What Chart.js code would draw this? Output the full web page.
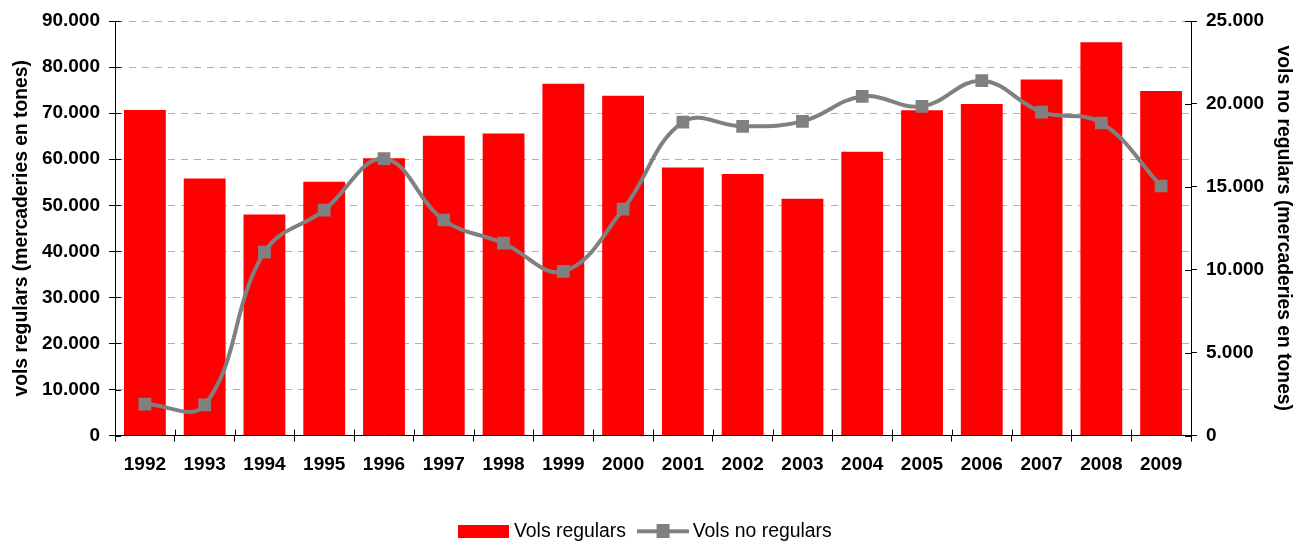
<!DOCTYPE html>
<html lang="ca">
<head>
<meta charset="utf-8">
<title>Vols regulars i no regulars</title>
<script src="https://cdn.jsdelivr.net/npm/chart.js@4/dist/chart.umd.min.js"></script>
<style>
  html, body { margin: 0; padding: 0; background: #fff; }
  #wrap { width: 1295px; height: 543px; position: relative; }
</style>
</head>
<body>
<div id="wrap"><canvas id="grafic"></canvas></div>
<script>
// Dades: tones de mercaderies per any
const anys = ["1992", "1993", "1994", "1995", "1996", "1997", "1998", "1999", "2000",
  "2001", "2002", "2003", "2004", "2005", "2006", "2007", "2008", "2009"];
const volsRegulars = [70700, 55800, 48000, 55100, 60200, 65100, 65600, 76400, 73800,
  58200, 56800, 51400, 61600, 70600, 72000, 77300, 85400, 74800];
const volsNoRegulars = [1900, 1850, 11070, 13600, 16700, 13000, 11600, 9900, 13650,
  18900, 18650, 18950, 20450, 19850, 21400, 19500, 18850, 15050];
const ticksEsquerra = [0, 90000, 10000];  // min, max, pas
const ticksDreta = [0, 25000, 5000];

const VERMELL = "#ff0000";
const GRIS = "#808080";
const FONT = "'Liberation Sans', Arial, sans-serif";

// format 90.000
function milers(v) {
  return v.toString().replace(/\B(?=(\d{3})+(?!\d))/g, ".");
}

// mostres de la llegenda
function mostraBarra() {
  const c = document.createElement("canvas");
  c.width = 51; c.height = 13;
  const g = c.getContext("2d");
  g.fillStyle = VERMELL;
  g.fillRect(0, 0, 51, 13);
  return c;
}
function mostraLinia() {
  const c = document.createElement("canvas");
  c.width = 52; c.height = 14;
  const g = c.getContext("2d");
  g.strokeStyle = GRIS;
  g.lineWidth = 4;
  g.beginPath(); g.moveTo(0, 7); g.lineTo(52, 7); g.stroke();
  g.fillStyle = GRIS;
  g.fillRect(20, 0, 13, 14);
  return c;
}

// marques dels eixos que creuen la línia de l'eix
const marquesEixos = {
  id: "marquesEixos",
  afterDatasetsDraw(chart) {
    const { ctx, chartArea, scales } = chart;
    const L = 6;
    ctx.save();
    ctx.strokeStyle = "#000";
    ctx.lineWidth = 1;
    ctx.beginPath();
    scales.y.ticks.forEach((t, i) => {
      const y = Math.round(scales.y.getPixelForTick(i)) + 0.5;
      ctx.moveTo(chartArea.left, y); ctx.lineTo(chartArea.left + L, y);
    });
    scales.y1.ticks.forEach((t, i) => {
      const y = Math.round(scales.y1.getPixelForTick(i)) + 0.5;
      ctx.moveTo(chartArea.right, y); ctx.lineTo(chartArea.right - L, y);
    });
    for (let i = 0; i <= anys.length; i++) {
      const x = Math.round(scales.x.getPixelForValue(i - 0.5)) + 0.5;
      ctx.moveTo(x, chartArea.bottom); ctx.lineTo(x, chartArea.bottom - L);
    }
    ctx.stroke();
    ctx.restore();
  }
};

const ctx = document.getElementById("grafic");

new Chart(ctx, {
  type: "bar",
  data: {
    labels: anys,
    datasets: [
      {
        type: "line",
        label: "Vols no regulars",
        data: volsNoRegulars,
        yAxisID: "y1",
        borderColor: GRIS,
        backgroundColor: GRIS,
        borderWidth: 4,
        tension: 0.4,
        pointStyle: "rect",
        pointRadius: 9,
        pointBorderWidth: 0,
        pointBackgroundColor: GRIS,
        order: 1
      },
      {
        type: "bar",
        label: "Vols regulars",
        data: volsRegulars,
        yAxisID: "y",
        backgroundColor: VERMELL,
        borderWidth: 0,
        barPercentage: 0.7,
        categoryPercentage: 1,
        order: 2
      }
    ]
  },
  options: {
    responsive: true,
    maintainAspectRatio: false,
    animation: false,
    layout: { padding: { left: 0, right: 0, top: 21, bottom: -8 } },
    plugins: {
      tooltip: { enabled: false },
      legend: {
        position: "bottom",
        labels: {
          font: { family: FONT, size: 19.4 },
          color: "#000",
          usePointStyle: true,
          pointStyleWidth: 41,
          padding: 16,
          generateLabels(chart) {
            return [
              { text: "Vols regulars", pointStyle: mostraBarra(), datasetIndex: 1, lineWidth: 0 },
              { text: "Vols no regulars", pointStyle: mostraLinia(), datasetIndex: 0, lineWidth: 0 }
            ];
          }
        }
      }
    },
    scales: {
      x: {
        offset: true,
        grid: { drawOnChartArea: false, tickLength: 6, tickColor: "#000", offset: true },
        border: { color: "#000", width: 1 },
        ticks: {
          color: "#000",
          font: { family: FONT, size: 19, weight: "bold" },
          maxRotation: 0,
          autoSkip: false,
          padding: 12
        },
        afterFit(scale) { scale.height = 70; }
      },
      y: {
        position: "left",
        min: ticksEsquerra[0],
        max: ticksEsquerra[1],
        grid: {
          color: (c) => (c.tick && c.tick.value === 0 ? "rgba(0,0,0,0)" : "#b0b0b0"),
          tickLength: 6,
          tickColor: "#000"
        },
        border: { color: "#000", width: 1, dash: [7, 6] },
        ticks: {
          stepSize: ticksEsquerra[2],
          color: "#000",
          font: { family: FONT, size: 19, weight: "bold" },
          padding: 9,
          callback: (v) => milers(v)
        },
        title: {
          display: true,
          text: "vols regulars (mercaderies en tones)",
          color: "#000",
          font: { family: FONT, size: 19.3, weight: "bold" },
          padding: { top: 10, bottom: 0 }
        },
        afterFit(scale) { scale.width = 115; }
      },
      y1: {
        position: "right",
        min: ticksDreta[0],
        max: ticksDreta[1],
        grid: { drawOnChartArea: false, tickLength: 6, tickColor: "#000" },
        border: { color: "#000", width: 1 },
        ticks: {
          stepSize: ticksDreta[2],
          color: "#000",
          font: { family: FONT, size: 19, weight: "bold" },
          padding: 9,
          callback: (v) => milers(v)
        },
        title: {
          display: true,
          text: "vols no regulars (mercaderies en tones)",
          color: "#000",
          font: { family: FONT, size: 19.3, weight: "bold" },
          padding: { top: 0, bottom: 0 }
        },
        afterFit(scale) { scale.width = 104; }
      }
    }
  },
  plugins: [marquesEixos]
});
</script>
</body>
</html>
